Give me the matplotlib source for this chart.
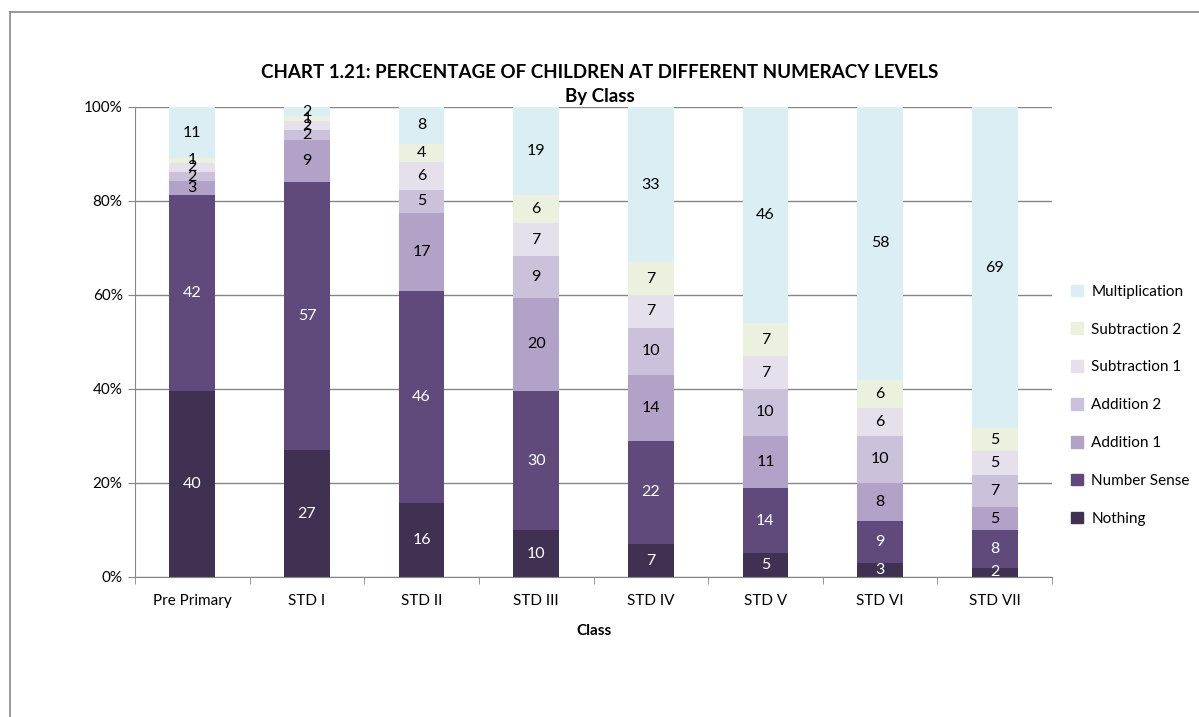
import matplotlib.pyplot as plt
import matplotlib.patches as mpatches
import numpy as np

plt.rcParams['font.family'] = ['Lato', 'DejaVu Sans']

classes = ['Pre Primary', 'STD I', 'STD II', 'STD III', 'STD IV', 'STD V', 'STD VI', 'STD VII']
levels = ['Nothing', 'Number Sense', 'Addition 1', 'Addition 2',
          'Subtraction 1', 'Subtraction 2', 'Multiplication']

nothing = [40, 27, 16, 10, 7, 5, 3, 2]
number_sense = [42, 57, 46, 30, 22, 14, 9, 8]
addition_1 = [3, 9, 17, 20, 14, 11, 8, 5]
addition_2 = [2, 2, 5, 9, 10, 10, 10, 7]
subtraction_1 = [2, 2, 6, 7, 7, 7, 6, 5]
subtraction_2 = [1, 1, 4, 6, 7, 7, 6, 5]
multiplication = [11, 2, 8, 19, 33, 46, 58, 69]

colors = ['#403152', '#604A7B', '#B3A2C7', '#CCC1DA', '#E5E0EC', '#EBF1DE', '#DBEEF3']
text_colors = ['white', 'white', 'black', 'black', 'black', 'black', 'black']

series = [nothing, number_sense, addition_1, addition_2,
          subtraction_1, subtraction_2, multiplication]
data = np.array(series, dtype=float)
# 100% stacked: each class column is scaled to its own total
shares = data / data.sum(axis=0) * 100

fig = plt.figure(figsize=(11.99, 7.17), dpi=100)
ax = fig.add_axes([0.1126, 0.1953, 0.7648, 0.6555])

x = np.arange(len(classes))
bottom = np.zeros(len(classes))
for i, name in enumerate(levels):
    ax.bar(x, shares[i], 0.4, bottom=bottom, color=colors[i], label=name, zorder=2)
    for j in range(len(classes)):
        ax.text(x[j], bottom[j] + shares[i][j] / 2, '%d' % series[i][j],
                ha='center', va='center', fontsize=11.5, color=text_colors[i], zorder=3)
    bottom += shares[i]

ax.set_xlim(-0.5, len(classes) - 0.5)
ax.set_ylim(0, 100)
ax.set_yticks(range(0, 101, 20))
ax.set_yticklabels(['%d%%' % v for v in range(0, 101, 20)], fontsize=11)
ax.set_xticks(x)
ax.set_xticklabels(classes, fontsize=11)
ax.set_xticks(np.arange(-0.5, len(classes)), minor=True)
ax.tick_params(axis='x', which='major', length=0, pad=12)
ax.tick_params(axis='x', which='minor', length=5, color='#868686')
ax.tick_params(axis='y', length=5, color='#868686', pad=4)
ax.yaxis.grid(True, color='#868686', linewidth=1, zorder=0)
ax.set_axisbelow(True)
for s in ['top', 'right']:
    ax.spines[s].set_visible(False)
for s in ['left', 'bottom']:
    ax.spines[s].set_color('#868686')
ax.set_xlabel('Class', fontsize=11, fontweight='bold', labelpad=12)

fig.text(0.5, 0.899, 'CHART 1.21: PERCENTAGE OF CHILDREN AT DIFFERENT NUMERACY LEVELS',
         ha='center', va='center', fontsize=13.5, fontweight='bold')
fig.text(0.5, 0.866, 'By Class', ha='center', va='center', fontsize=13.5, fontweight='bold')

handles = [mpatches.Patch(color=colors[i], label=levels[i]) for i in range(len(levels))][::-1]
fig.legend(handles=handles, loc='center left', bbox_to_anchor=(0.882, 0.435),
           frameon=False, fontsize=11, handlelength=0.8, handleheight=0.8,
           handletextpad=0.5, labelspacing=1.55)

# outer chart frame
fig.add_artist(plt.Line2D([0.0083, 0.0083], [0.0, 0.983], color='#868686', lw=1.2))
fig.add_artist(plt.Line2D([0.0083, 1.0], [0.983, 0.983], color='#868686', lw=1.2))

fig.savefig('out.png', dpi=100)
